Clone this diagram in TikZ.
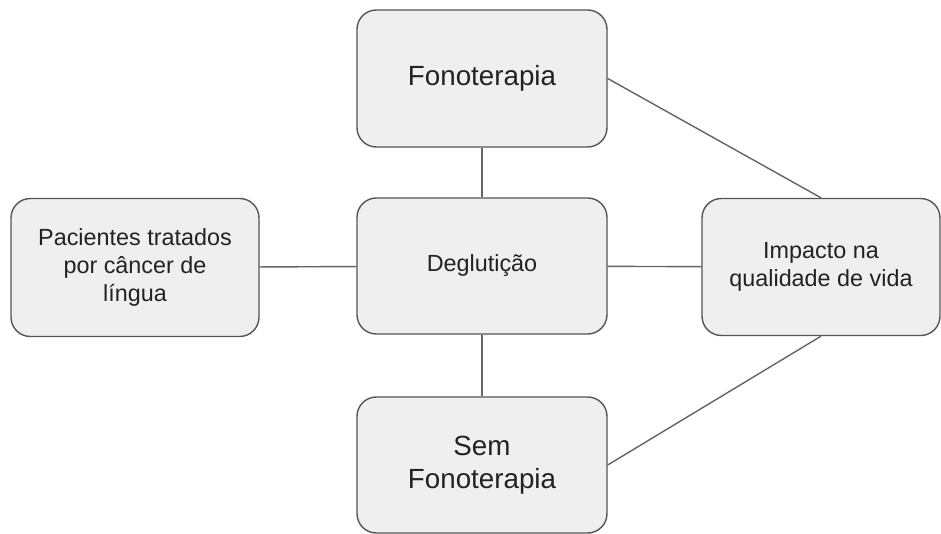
\documentclass[tikz,border=0pt]{standalone}
\usepackage{fontspec}
\setmainfont{Liberation Sans}
\usetikzlibrary{positioning}
\definecolor{boxfill}{RGB}{239,239,239}
\definecolor{boxline}{RGB}{85,85,85}
\definecolor{lnkgray}{RGB}{100,100,100}
\definecolor{txtgray}{RGB}{34,34,34}
\tikzset{
  bx/.style={draw=boxline, fill=boxfill, line width=0.8pt, rounded corners=11pt,
    align=center, text=txtgray, inner sep=0pt, font=\fontsize{13.3}{16}\selectfont},
  bigtxt/.style={font=\fontsize{15.8}{19}\selectfont},
  lnk/.style={draw=lnkgray, line width=0.8pt},
}
\begin{document}
\begin{tikzpicture}[x=0.02cm, y=-0.02cm]
\useasboundingbox (0,0) rectangle (941,534);
%---- the boxes
\node[bx, bigtxt, minimum width=250*0.02cm, minimum height=137*0.02cm] (fono) at (482,78.5) {Fonoterapia};
\node[bx, minimum width=250*0.02cm, minimum height=136*0.02cm] (degl) at (482,266) {Deglutição};
\node[bx, bigtxt, minimum width=250*0.02cm, minimum height=136*0.02cm] (sem) at (482,465) {Sem\\Fonoterapia};
\node[bx, minimum width=248*0.02cm, minimum height=138*0.02cm] (pac) at (135,267.5) {Pacientes tratados\\por câncer de\\língua};
\node[bx, minimum width=238*0.02cm, minimum height=137*0.02cm] (imp) at (821,267) {Impacto na\\qualidade de vida};
%---- the links
\draw[lnk] (fono) -- (degl);
\draw[lnk] (degl) -- (sem);
\draw[lnk] (pac) -- (degl);
\draw[lnk] (degl) -- (imp);
\draw[lnk] (fono.east) -- (imp.north);
\draw[lnk] (sem.east) -- (imp.south);
\end{tikzpicture}
\end{document}
